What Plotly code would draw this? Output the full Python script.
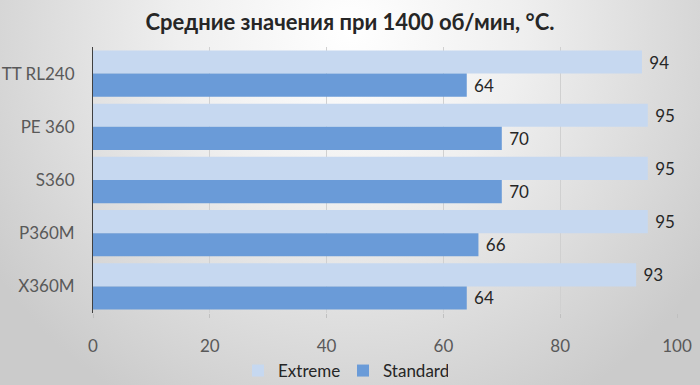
import plotly.graph_objects as go

categories = ["TT RL240", "PE 360", "S360", "P360M", "X360M"]
extreme = [94, 95, 95, 95, 93]
standard = [64, 70, 70, 66, 64]
x_ticks = [0, 20, 40, 60, 80, 100]

W, H = 700, 385
ML, MR, MT, MB = 93, 23, 47, 72
pw, ph = W - ML - MR, H - MT - MB

FONT = "Lato"

fig = go.Figure()
fig.add_trace(go.Bar(
    y=categories, x=extreme, orientation="h", name="Extreme",
    marker=dict(color="#c6d8f0", line=dict(width=0)),
    text=[f" {v}" for v in extreme], textposition="outside", cliponaxis=False,
    textfont=dict(size=17, color="#262626", family=FONT),
))
fig.add_trace(go.Bar(
    y=categories, x=standard, orientation="h", name="Standard",
    marker=dict(color="#6a9bd8", line=dict(width=0)),
    text=[f" {v}" for v in standard], textposition="outside", cliponaxis=False,
    textfont=dict(size=17, color="#262626", family=FONT),
))

svg = ("data:image/svg+xml;utf8,"
       "<svg xmlns='http://www.w3.org/2000/svg' width='700' height='385' viewBox='0 0 700 385' preserveAspectRatio='none'>"
       "<defs><radialGradient id='g' cx='350' cy='30' r='430' gradientUnits='userSpaceOnUse'>"
       "<stop offset='0' stop-color='%23ffffff'/><stop offset='0.4' stop-color='%23efefef'/>"
       "<stop offset='1' stop-color='%23cbcbcb'/></radialGradient></defs>"
       "<rect width='700' height='385' fill='url(%23g)'/></svg>")

fig.update_layout(
    width=W, height=H,
    margin=dict(l=ML, r=MR, t=MT, b=MB, autoexpand=False),
    paper_bgcolor="#e4e4e4", plot_bgcolor="rgba(0,0,0,0)",
    barmode="group", bargap=0.13, bargroupgap=0,
    font=dict(family=FONT, color="#595959"),
    title=dict(text="<b>Средние значения при 1400 об/мин, °C.</b>",
               x=0.5, xanchor="center", y=1 - 22 / H, yanchor="middle",
               font=dict(size=22, color="#262626", family=FONT)),
    xaxis=dict(range=[0, 100], tickvals=x_ticks, showgrid=True, gridcolor="#d0d0d0",
               gridwidth=1, zeroline=False, showline=False, ticks="outside",
               ticklen=4, tickcolor="#c0c0c0", ticklabelstandoff=14, automargin=False,
               tickfont=dict(size=17, color="#595959")),
    yaxis=dict(autorange="reversed", showline=True, linecolor="#404040", linewidth=1,
               showgrid=False, ticks="", ticklabelstandoff=14, automargin=False,
               tickfont=dict(size=17, color="#595959")),
    legend=dict(orientation="h", xref="container", x=0.49, xanchor="center",
                yref="container", y=1 - 371 / H, yanchor="middle",
                font=dict(size=17, color="#262626"), bgcolor="rgba(0,0,0,0)",
                itemwidth=30, tracegroupgap=0, entrywidth=60, entrywidthmode="pixels"),
    images=[dict(source=svg, xref="paper", yref="paper",
                 x=-ML / pw, y=1 + MT / ph, sizex=W / pw, sizey=H / ph,
                 xanchor="left", yanchor="top", sizing="stretch", layer="below")],
    showlegend=True,
)

fig.write_html("out.html")
